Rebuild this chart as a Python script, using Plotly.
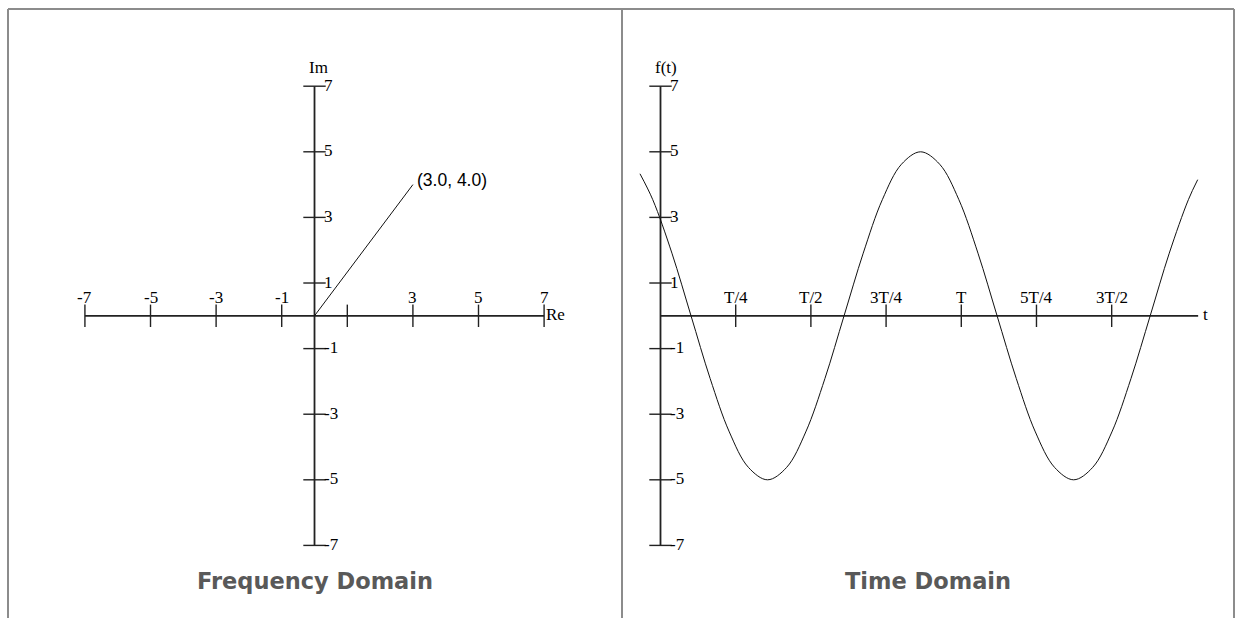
import plotly.graph_objects as go

# ---------------- data ----------------
phasor_re = [0.0, 3.0]
phasor_im = [0.0, 4.0]
phasor_label = "(3.0, 4.0)"

freq_ticks = [-7, -5, -3, -1, 1, 3, 5, 7]
freq_xtick_labels = ["-7", "-5", "-3", "-1", "", "3", "5", "7"]
freq_ytick_labels = ["-7", "-5", "-3", "-1", "1", "3", "5", "7"]
freq_axis_min, freq_axis_max = -7, 7

time_ticks = [1, 2, 3, 4, 5, 6]          # in units of T/4
time_tick_labels = ["T/4", "T/2", "3T/4", "T", "5T/4", "3T/2"]
time_yticks = [-7, -5, -3, -1, 1, 3, 5, 7]
time_ytick_labels = ["-7", "-5", "-3", "-1", "1", "3", "5", "7"]
time_axis_end = 7.15

t_samples = [-0.273, -0.103, 0.152, 0.406, 0.660, 0.915, 1.169, 1.424, 1.678,
             1.932, 2.187, 2.441, 2.696, 2.950, 3.204, 3.459, 3.713, 3.968,
             4.222, 4.476, 4.731, 4.985, 5.240, 5.494, 5.748, 6.003, 6.257,
             6.512, 6.766, 7.020, 7.144]
f_samples = [4.33, 3.54, 1.91, 0.00, -1.91, -3.54, -4.62, -5.00, -4.62,
             -3.54, -1.91, 0.00, 1.91, 3.54, 4.62, 5.00, 4.62, 3.54,
             1.91, 0.00, -1.91, -3.54, -4.62, -5.00, -4.62, -3.54, -1.91,
             0.00, 1.91, 3.54, 4.15]

titles = ["Frequency Domain", "Time Domain"]

# ---------------- figure ----------------
W, H = 1235, 618
AX = "#222222"
SERIF = "Liberation Serif"
fig = go.Figure()

def axis_line(xs, ys, xa, ya):
    fig.add_trace(go.Scatter(x=xs, y=ys, mode="lines", xaxis=xa, yaxis=ya,
                             line=dict(color=AX, width=1.8), hoverinfo="skip",
                             showlegend=False))

def tick_marks(xs, ys, symbol, xa, ya):
    fig.add_trace(go.Scatter(x=xs, y=ys, mode="markers", xaxis=xa, yaxis=ya,
                             marker=dict(symbol=symbol, size=16, color=AX,
                                         line=dict(color=AX, width=1.4)),
                             hoverinfo="skip", showlegend=False))

# --- frequency domain ---
axis_line([freq_axis_min, freq_axis_max], [0, 0], "x", "y")
axis_line([0, 0], [freq_axis_min, freq_axis_max], "x", "y")
tick_marks(freq_ticks, [0] * len(freq_ticks), "line-ns", "x", "y")
tick_marks([0] * len(freq_ticks), freq_ticks, "line-ew", "x", "y")
fig.add_trace(go.Scatter(x=phasor_re, y=phasor_im, mode="lines", xaxis="x", yaxis="y",
                         line=dict(color="#111111", width=1), showlegend=False,
                         hoverinfo="skip"))

# --- time domain ---
axis_line([0, time_axis_end], [0, 0], "x2", "y2")
axis_line([0, 0], [time_yticks[0], time_yticks[-1]], "x2", "y2")
tick_marks(time_ticks, [0] * len(time_ticks), "line-ns", "x2", "y2")
tick_marks([0] * len(time_yticks), time_yticks, "line-ew", "x2", "y2")
fig.add_trace(go.Scatter(x=t_samples, y=f_samples, mode="lines", xaxis="x2", yaxis="y2",
                         line=dict(color="#111111", width=1, shape="spline", smoothing=1.0),
                         showlegend=False, hoverinfo="skip"))

ann = []
lab_font = dict(family=SERIF, size=17, color="#000000")
pt_font = dict(family="Liberation Sans", size=17.5, color="#000000")
for v, s in zip(freq_ticks, freq_xtick_labels):
    if s:
        ann.append(dict(x=v, y=0, xref="x", yref="y", text=s, showarrow=False,
                        xanchor="center", yanchor="bottom", yshift=7, font=lab_font))
for v, s in zip(freq_ticks, freq_ytick_labels):
    ann.append(dict(x=0, y=v, xref="x", yref="y", text=s, showarrow=False,
                    xanchor="left", yanchor="middle", xshift=7, yshift=1, font=lab_font))
ann.append(dict(x=0, y=freq_axis_max, xref="x", yref="y", text="Im", showarrow=False,
                xanchor="center", yanchor="bottom", xshift=4, yshift=7, font=lab_font))
ann.append(dict(x=freq_axis_max, y=0, xref="x", yref="y", text="Re", showarrow=False,
                xanchor="left", yanchor="middle", xshift=0, yshift=1, font=lab_font))
ann.append(dict(x=phasor_re[1], y=phasor_im[1], xref="x", yref="y", text=phasor_label,
                showarrow=False, xanchor="left", yanchor="middle", xshift=2, yshift=5,
                font=pt_font))

for v, s in zip(time_ticks, time_tick_labels):
    ann.append(dict(x=v, y=0, xref="x2", yref="y2", text=s, showarrow=False,
                    xanchor="center", yanchor="bottom", yshift=7, font=lab_font))
for v, s in zip(time_yticks, time_ytick_labels):
    ann.append(dict(x=0, y=v, xref="x2", yref="y2", text=s, showarrow=False,
                    xanchor="left", yanchor="middle", xshift=7, yshift=1, font=lab_font))
ann.append(dict(x=0, y=time_yticks[-1], xref="x2", yref="y2", text="f(t)", showarrow=False,
                xanchor="center", yanchor="bottom", xshift=5, yshift=7, font=lab_font))
ann.append(dict(x=time_axis_end, y=0, xref="x2", yref="y2", text="t", showarrow=False,
                xanchor="left", yanchor="middle", xshift=3, yshift=1, font=lab_font))

title_font = dict(family="DejaVu Sans", size=22.5, color="#595959", weight="bold")
ann.append(dict(x=0, y=-8.085, xref="x", yref="y", text=titles[0], showarrow=False,
                xanchor="center", yanchor="middle", font=title_font))
ann.append(dict(x=3.557, y=-8.085, xref="x2", yref="y2", text=titles[1], showarrow=False,
                xanchor="center", yanchor="middle", font=title_font))

# frame lines (panel borders)
def px(x):
    return x / W
def py(y):
    return 1 - y / H
frame = "#8c8c8c"
shapes = [
    dict(type="line", xref="paper", yref="paper", x0=px(8), x1=px(1234), y0=py(9), y1=py(9),
         line=dict(color=frame, width=2)),
    dict(type="line", xref="paper", yref="paper", x0=px(8), x1=px(8), y0=py(9), y1=0,
         line=dict(color=frame, width=2)),
    dict(type="line", xref="paper", yref="paper", x0=px(622), x1=px(622), y0=py(9), y1=0,
         line=dict(color=frame, width=2)),
    dict(type="line", xref="paper", yref="paper", x0=px(1234), x1=px(1234), y0=py(9), y1=0,
         line=dict(color=frame, width=2)),
]

hidden = dict(visible=False, showgrid=False, zeroline=False, fixedrange=True)
fig.update_layout(
    width=W, height=H,
    margin=dict(l=0, r=0, t=0, b=0),
    paper_bgcolor="white", plot_bgcolor="white",
    xaxis=dict(domain=[0, 622 / W], range=[-9.589, 9.375], anchor="y", **hidden),
    yaxis=dict(domain=[0, 1], range=[-9.213, 9.628], anchor="x", **hidden),
    xaxis2=dict(domain=[622 / W, 1], range=[-0.512, 7.640], anchor="y2", **hidden),
    yaxis2=dict(domain=[0, 1], range=[-9.213, 9.628], anchor="x2", **hidden),
    annotations=ann, shapes=shapes, showlegend=False,
)

fig.write_html("out.html", config={"displayModeBar": False},
               post_script="document.body.style.margin='0';document.body.style.overflow='hidden';")
